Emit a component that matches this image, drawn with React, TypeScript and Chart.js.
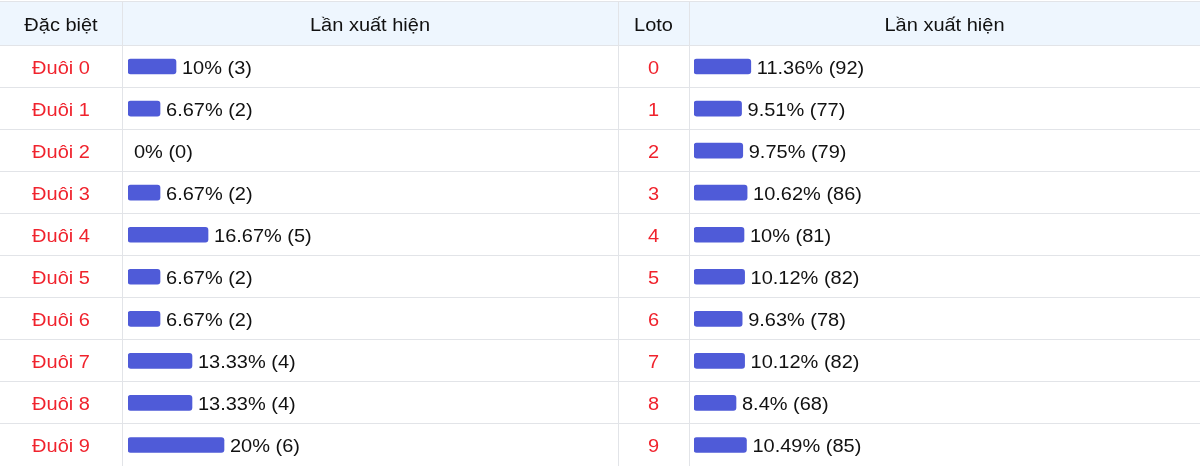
import React, { useEffect, useRef } from "react";
import { Chart, registerables } from "chart.js";

Chart.register(...registerables);

const specialHeaders = ["Đặc biệt", "Lần xuất hiện"];
const specialCategories = ["Đuôi 0", "Đuôi 1", "Đuôi 2", "Đuôi 3", "Đuôi 4", "Đuôi 5", "Đuôi 6", "Đuôi 7", "Đuôi 8", "Đuôi 9"];
const specialPercents = [10, 6.67, 0, 6.67, 16.67, 6.67, 6.67, 13.33, 13.33, 20];
const specialCounts = [3, 2, 0, 2, 5, 2, 2, 4, 4, 6];

const lotoHeaders = ["Loto", "Lần xuất hiện"];
const lotoCategories = ["0", "1", "2", "3", "4", "5", "6", "7", "8", "9"];
const lotoPercents = [11.36, 9.51, 9.75, 10.62, 10, 10.12, 9.63, 10.12, 8.4, 10.49];
const lotoCounts = [92, 77, 79, 86, 81, 82, 78, 82, 68, 85];

const FONT = '18px "Liberation Sans", Arial, sans-serif';
const SX = 1.11;
const BAR_COLOR = "#4f5bd8";
const LINE_COLOR = "#e2e4e8";
const HEADER_BG = "#eef6fe";
const TEXT_COLOR = "#111111";
const CAT_COLOR = "#f0232d";

type Side = {
  width: number;
  headers: string[];
  categories: string[];
  percents: number[];
  counts: number[];
  catColRight: number;
  barLeft: number;
  padRight: number;
  leftBorder: boolean;
};

function drawText(ctx: CanvasRenderingContext2D, text: string, x: number, baseline: number, align: CanvasTextAlign, color: string) {
  ctx.save();
  ctx.translate(x, baseline);
  ctx.scale(SX, 1);
  ctx.font = FONT;
  ctx.textAlign = align;
  ctx.textBaseline = "alphabetic";
  ctx.fillStyle = color;
  ctx.fillText(text, 0, 0);
  ctx.restore();
}

function makeChart(canvas: HTMLCanvasElement, side: Side) {
  const tablePlugin = {
    id: "tableDecor",
    beforeDraw(chart: any) {
      const ctx = chart.ctx as CanvasRenderingContext2D;
      const W = chart.width;
      const H = chart.height;
      const y = chart.scales.y;
      ctx.save();
      ctx.fillStyle = "#ffffff";
      ctx.fillRect(0, 0, W, H);
      ctx.fillStyle = HEADER_BG;
      ctx.fillRect(0, 1, W, 44);
      ctx.strokeStyle = LINE_COLOR;
      ctx.lineWidth = 1;
      ctx.beginPath();
      ctx.moveTo(0, 1.5);
      ctx.lineTo(W, 1.5);
      const step = y.getPixelForValue(1) - y.getPixelForValue(0);
      for (let i = 0; i < side.categories.length; i++) {
        const b = Math.floor(y.getPixelForValue(i) - step / 2) + 0.5;
        ctx.moveTo(0, b);
        ctx.lineTo(W, b);
      }
      if (side.leftBorder) {
        ctx.moveTo(0.5, 1);
        ctx.lineTo(0.5, H);
      }
      ctx.moveTo(side.catColRight + 0.5, 1);
      ctx.lineTo(side.catColRight + 0.5, H);
      ctx.stroke();
      ctx.restore();
    },
    afterDatasetsDraw(chart: any) {
      const ctx = chart.ctx as CanvasRenderingContext2D;
      const W = chart.width;
      const x = chart.scales.x;
      const y = chart.scales.y;
      drawText(ctx, side.headers[0], side.catColRight / 2, 31, "center", TEXT_COLOR);
      drawText(ctx, side.headers[1], (side.catColRight + W) / 2, 31, "center", TEXT_COLOR);
      side.categories.forEach((c, i) => {
        const base = Math.round(y.getPixelForValue(i) + 7.5);
        drawText(ctx, c, side.catColRight / 2, base, "center", CAT_COLOR);
        const end = x.getPixelForValue(side.percents[i]);
        drawText(ctx, `${side.percents[i]}% (${side.counts[i]})`, end + 6, base, "left", TEXT_COLOR);
      });
    },
  };

  return new Chart(canvas, {
    type: "bar",
    data: {
      labels: side.categories,
      datasets: [
        {
          data: side.percents,
          backgroundColor: (c: any) => (c.raw > 0 ? BAR_COLOR : "rgba(0,0,0,0)"),
          borderWidth: 0,
          borderRadius: 3,
          borderSkipped: false,
          barThickness: 15,
        },
      ],
    },
    options: {
      indexAxis: "y",
      responsive: false,
      animation: false,
      devicePixelRatio: 1,
      layout: { padding: { left: side.barLeft, right: side.padRight, top: 45.5, bottom: 0 } },
      plugins: { legend: { display: false }, tooltip: { enabled: false }, title: { display: false } },
      scales: {
        x: { type: "linear", min: 0, max: 100, display: false },
        y: { type: "category", display: false, offset: true },
      },
    },
    plugins: [tablePlugin],
  } as any);
}

const leftSide: Side = {
  width: 618,
  headers: specialHeaders,
  categories: specialCategories,
  percents: specialPercents,
  counts: specialCounts,
  catColRight: 122,
  barLeft: 128,
  padRight: 10,
  leftBorder: false,
};

const rightSide: Side = {
  width: 582,
  headers: lotoHeaders,
  categories: lotoCategories,
  percents: lotoPercents,
  counts: lotoCounts,
  catColRight: 71,
  barLeft: 76,
  padRight: 6,
  leftBorder: true,
};

export default function App() {
  const leftRef = useRef<HTMLCanvasElement>(null);
  const rightRef = useRef<HTMLCanvasElement>(null);

  useEffect(() => {
    const a = makeChart(leftRef.current!, leftSide);
    const b = makeChart(rightRef.current!, rightSide);
    return () => {
      a.destroy();
      b.destroy();
    };
  }, []);

  return (
    <div style={{ position: "fixed", left: 0, top: 0, width: 1200, height: 466, background: "#fff" }}>
      <canvas ref={leftRef} width={618} height={466} style={{ position: "absolute", left: 0, top: 0, width: 618, height: 466 }} />
      <canvas ref={rightRef} width={582} height={466} style={{ position: "absolute", left: 618, top: 0, width: 582, height: 466 }} />
    </div>
  );
}
